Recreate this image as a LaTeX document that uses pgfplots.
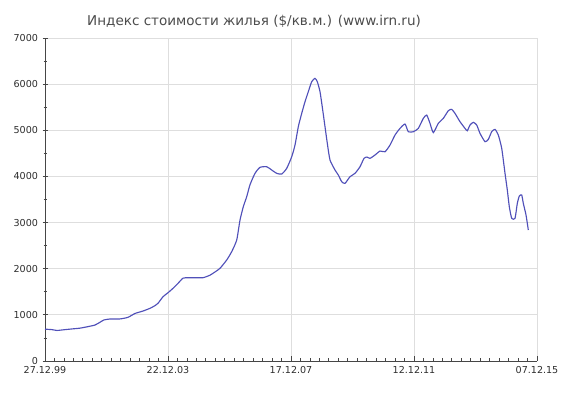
\documentclass[border=0pt]{standalone}
\usepackage{pgfplots}
\pgfplotsset{compat=1.18}
\usepackage{fontspec}
\setmainfont{DejaVu Sans}
\definecolor{linec}{RGB}{80,80,185}
\definecolor{gridc}{RGB}{222,222,222}
\definecolor{axc}{RGB}{70,70,70}
\definecolor{txtc}{RGB}{45,45,45}
\begin{document}
\begin{tikzpicture}[x=1bp,y=1bp]
\useasboundingbox (0,0) rectangle (582,397);
\node[text=txtc!85!white,font=\fontsize{13.6}{15}\selectfont] at (254,376) {Индекс стоимости жилья (\$/кв.м.) (www.irn.ru)};
\begin{axis}[
  at={(45bp,36bp)}, anchor=south west,
  scale only axis, width=492bp, height=323bp,
  xmin=45, xmax=537, ymin=0, ymax=7000,
  axis x line*=bottom, axis y line*=left,
  axis line style={axc, line width=0.9pt},
  xtick={45,168,291,414,537},
  xticklabels={27.12.99,22.12.03,17.12.07,12.12.11,07.12.15},
  minor x tick num=12,
  ytick={0,1000,2000,3000,4000,5000,6000,7000},
  minor y tick num=1,
  scaled y ticks=false,
  /pgf/number format/1000 sep={},
  /pgf/number format/assume math mode=true,
  ticklabel style={font=\fontsize{9.6}{11}\selectfont, text=txtc},
  xticklabel style={yshift=-2bp},
  yticklabel style={xshift=-1bp},
  tick style={axc, line width=0.8pt},
  major tick length=5bp, minor tick length=3bp,
  tick align=inside,
  ytick align=center,
  grid=major,
  major grid style={gridc, line width=0.9pt},
  clip=false,
]
\addplot[linec, line width=1.15pt, smooth, tension=0.35] coordinates {
(45,690) (52,680) (57,662) (65,680) (72,695) (80,712) (88,745) (95,780)
(100,840) (104,890) (110,910) (120,912) (128,947) (135,1030) (143,1083)
(150,1142) (155,1200) (158,1250) (163,1393) (168,1480) (173,1575)
(178,1683) (183,1795) (188,1805) (195,1805) (203,1805) (210,1860)
(215,1930) (220,2009) (226.7,2189) (231.7,2370) (236.7,2622) (240,3055)
(243.3,3344) (246.7,3561) (250,3820) (255,4067) (260,4197) (266.7,4210)
(271.7,4139) (276.7,4067) (281.7,4052) (286.7,4175) (291.7,4427)
(295,4680) (298.3,5077) (301.7,5366) (305,5619) (308.3,5836) (311.7,6053)
(315,6126) (317.3,6053) (320,5836) (322.7,5439) (325,5077) (327.3,4717)
(330,4356) (335,4139) (338.3,4030) (341.7,3886) (345,3850) (350,3994)
(355,4067) (360,4210) (364,4392) (367,4420) (370,4392) (375,4464)
(380,4550) (385,4535) (390,4680) (395,4897) (400,5041) (405,5135)
(408.3,4969) (413.3,4969) (418.3,5041) (423.3,5258) (426.7,5330)
(430,5150) (433.3,4950) (438.3,5150) (443.3,5258) (448.3,5424)
(451.7,5454) (455,5366) (460,5186) (465,5041) (467.3,4990) (470,5114)
(473.3,5172) (476.7,5114) (480,4933) (485,4753) (488.3,4803) (491.7,4969)
(495,5020) (498.3,4897) (501.7,4609) (505,4067) (507.3,3705) (509.3,3344)
(511.7,3092) (515,3092) (517.3,3417) (519.3,3575) (521.7,3597)
(523.3,3417) (526,3164) (528.3,2839)
};
\end{axis}
\end{tikzpicture}
\end{document}
